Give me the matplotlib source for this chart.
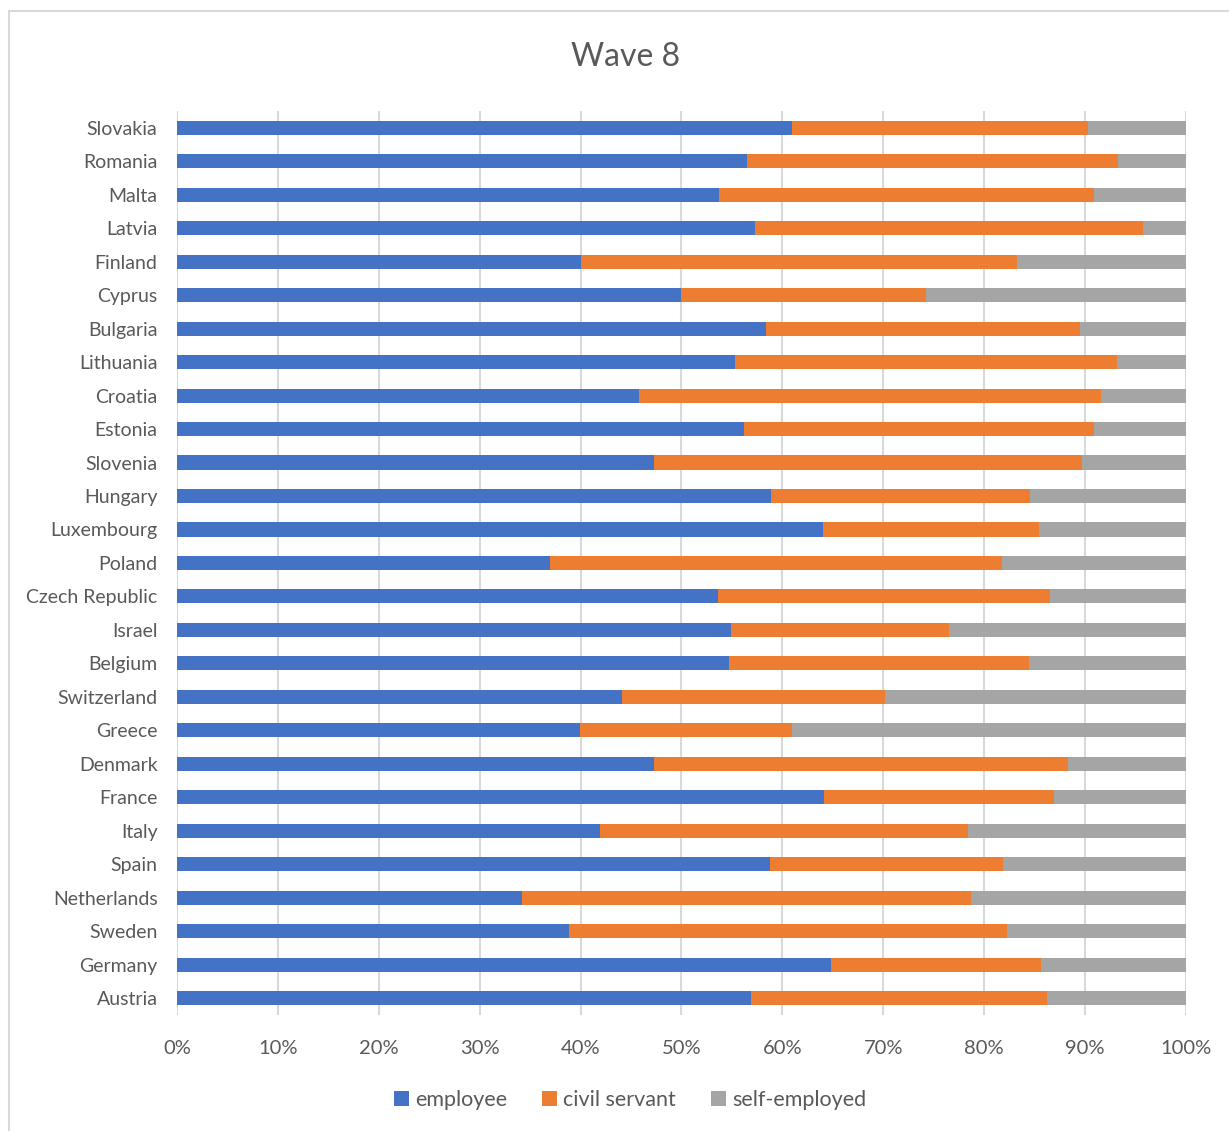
import numpy as np
import matplotlib.pyplot as plt
from matplotlib.patches import Rectangle
from matplotlib.ticker import PercentFormatter

plt.rcParams["font.family"] = ["Lato", "DejaVu Sans"]

# Countries listed bottom to top
countries = [
    "Austria", "Germany", "Sweden", "Netherlands", "Spain", "Italy", "France",
    "Denmark", "Greece", "Switzerland", "Belgium", "Israel", "Czech Republic",
    "Poland", "Luxembourg", "Hungary", "Slovenia", "Estonia", "Croatia",
    "Lithuania", "Bulgaria", "Cyprus", "Finland", "Latvia", "Malta",
    "Romania", "Slovakia",
]
employee = [
    56.9, 64.8, 38.9, 34.2, 58.8, 41.9, 64.1, 47.3, 39.9, 44.1, 54.7, 54.9,
    53.6, 37.0, 64.0, 58.9, 47.3, 56.2, 45.8, 55.3, 58.4, 50.0, 40.0, 57.3,
    53.7, 56.5, 61.0,
]
civil_servant = [
    29.3, 20.8, 43.4, 44.5, 23.1, 36.5, 22.8, 41.0, 21.1, 26.1, 29.7, 21.6,
    32.9, 44.8, 21.4, 25.6, 42.4, 34.7, 45.8, 37.9, 31.1, 24.2, 43.3, 38.4,
    37.2, 36.8, 29.3,
]
self_employed = [
    13.8, 14.4, 17.7, 21.3, 18.1, 21.6, 13.1, 11.7, 39.0, 29.8, 15.6, 23.5,
    13.5, 18.2, 14.6, 15.5, 10.3, 9.1, 8.4, 6.8, 10.5, 25.8, 16.7, 4.3,
    9.1, 6.7, 9.7,
]
series = ["employee", "civil servant", "self-employed"]
colors = ["#4472C4", "#ED7D31", "#A5A5A5"]

text_color = "#595959"
grid_color = "#D9D9D9"

fig = plt.figure(figsize=(12.29, 11.31), dpi=100)
ax = fig.add_axes([0.144, 0.1026, 0.821, 0.7993])

# Outer chart border
fig.patches.append(Rectangle(
    (9 / 1229, -0.1), 1.2, 1.1 - 11 / 1131, transform=fig.transFigure,
    fill=False, edgecolor=grid_color, linewidth=1.5, zorder=0
))

y = np.arange(len(countries))
left = np.zeros(len(countries))
for values, name, color in zip([employee, civil_servant, self_employed], series, colors):
    values = np.array(values)
    ax.barh(y, values, left=left, height=0.42, color=color, label=name, zorder=3)
    left += values

ax.set_xlim(0, 100)
ax.set_ylim(-0.5, len(countries) - 0.5)
ax.set_xticks(np.arange(0, 101, 10))
ax.xaxis.set_major_formatter(PercentFormatter(decimals=0))
ax.set_yticks(y)
ax.set_yticklabels(countries)
ax.tick_params(axis="both", length=0, colors=text_color, labelsize=14)
ax.tick_params(axis="x", pad=18, labelsize=14.5)
ax.tick_params(axis="y", pad=14)
ax.grid(axis="x", color=grid_color, linewidth=1.5, zorder=0)
for spine in ax.spines.values():
    spine.set_visible(False)

fig.text(0.509, 0.95, "Wave 8", ha="center", va="center",
         fontsize=23, color=text_color)

ax.legend(loc="center", bbox_to_anchor=(0.449, -0.094), ncol=3, frameon=False,
          fontsize=15.5, labelcolor=text_color, handlelength=0.7,
          handleheight=0.7, handletextpad=0.3, columnspacing=1.6)

fig.savefig("out.png", dpi=100)
